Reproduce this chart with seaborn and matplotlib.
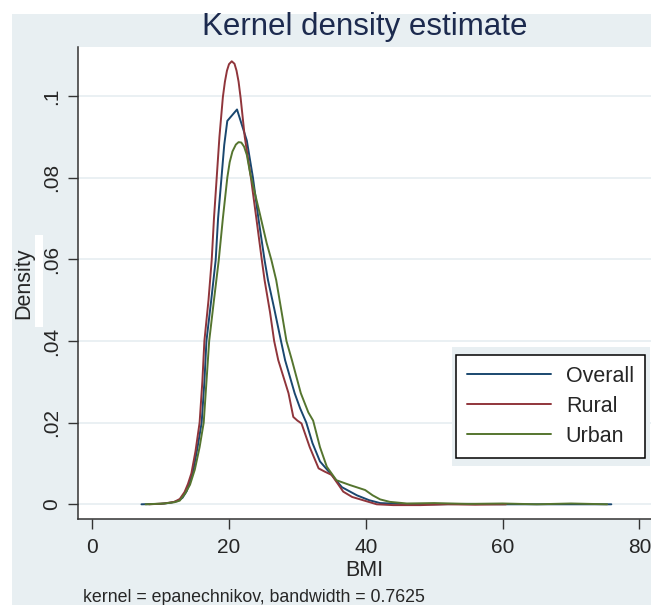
import matplotlib
matplotlib.use("Agg")
from matplotlib import pyplot as plt
from matplotlib.patches import Rectangle
import pandas as pd
import seaborn as sns

# BMI density curves
overall_x = [7.2, 10.0, 11.5, 12.5, 13.2, 13.8, 14.3, 14.8, 15.4, 16.0, 16.4, 16.7, 17.4, 18.05,
             18.4, 18.9, 19.3, 19.75, 21.17, 22.6, 23.5, 24.3, 25.2, 25.7, 26.6, 27.6, 28.2,
             29.6, 30.4, 31.3, 32.2, 33.3, 34.8, 36.5, 38.7, 40.5, 42.1, 45, 50, 55, 60, 65, 70, 75.9]
overall_y = [0.0, 0.0001, 0.0004, 0.0008, 0.0016, 0.0032, 0.0055, 0.0085, 0.014, 0.020, 0.030,
             0.040, 0.050, 0.0598, 0.070, 0.080, 0.088, 0.0939, 0.0967, 0.0891, 0.080, 0.070,
             0.0598, 0.0549, 0.048, 0.040, 0.0353, 0.0272, 0.0235, 0.0200, 0.015, 0.0105, 0.0076,
             0.0042, 0.0022, 0.0010, 0.0003, 0.0001, 0.0, 0.0001, 0.0, 0.0, 0.0, 0.0]

rural_x = [8.3, 10.5, 12.0, 12.8, 13.5, 14.0, 14.5, 15.1, 15.7, 16.1, 16.4, 17.0, 17.47, 17.8,
           18.2, 18.6, 19.1, 19.4, 19.7, 20.0, 20.4, 20.8, 21.1, 21.4, 21.7, 22.3, 23.2, 24.0,
           24.8, 25.2, 26.0, 26.6, 27.2, 28.7, 29.4, 30.0, 30.6, 31.8, 33.1, 34.0, 35.0, 36.0,
           36.7, 38.0, 39.6, 41.6, 44, 48, 52, 56, 60.5]
rural_y = [0.0, 0.0002, 0.0006, 0.0013, 0.003, 0.005, 0.0076, 0.013, 0.020, 0.030, 0.040, 0.050,
           0.0598, 0.070, 0.080, 0.090, 0.0997, 0.1035, 0.1062, 0.1078, 0.1085, 0.1079, 0.1062,
           0.1035, 0.0995, 0.090, 0.080, 0.070, 0.0598, 0.0549, 0.047, 0.040, 0.0353, 0.0272,
           0.0214, 0.0205, 0.0198, 0.014, 0.0088, 0.0080, 0.0072, 0.0048, 0.0031, 0.0018, 0.0010,
           0.0, -0.0002, -0.0002, 0.0, -0.0001, 0.0]

urban_x = [7.8, 10.5, 12.0, 12.8, 13.6, 14.3, 15.0, 15.7, 16.3, 16.7, 17.1, 17.8, 18.5, 19.1,
           19.75, 20.1, 20.5, 21.0, 21.4, 21.8, 22.2, 22.6, 23.1, 24.5, 25.5, 26.2, 26.9, 27.7,
           28.4, 29.2, 30.5, 31.6, 32.3, 33.3, 34.3, 35.7, 37.7, 39.9, 41.0, 42.1, 43.5, 46, 50,
           55, 60, 65, 70, 75.3]
urban_y = [0.0, 0.0002, 0.0005, 0.0009, 0.0027, 0.0048, 0.0085, 0.014, 0.020, 0.030, 0.040,
           0.050, 0.0598, 0.070, 0.080, 0.0838, 0.0864, 0.0881, 0.0887, 0.0886, 0.0876, 0.0856,
           0.081, 0.0712, 0.064, 0.0598, 0.0549, 0.047, 0.040, 0.0353, 0.0272, 0.0225, 0.0205,
           0.014, 0.0092, 0.0059, 0.0047, 0.0035, 0.0022, 0.0012, 0.0006, 0.0002, 0.0003, 0.0001,
           0.0002, 0.0, 0.0002, 0.0]

groups = ["Overall", "Rural", "Urban"]
colors = ["#1a476f", "#90353b", "#55752f"]
x_ticks = [0, 20, 40, 60, 80]
y_ticks = [0, 0.02, 0.04, 0.06, 0.08, 0.1]
y_labels = ["0", ".02", ".04", ".06", ".08", ".1"]

df = pd.concat([
    pd.DataFrame({"BMI": overall_x, "Density": overall_y, "group": "Overall"}),
    pd.DataFrame({"BMI": rural_x, "Density": rural_y, "group": "Rural"}),
    pd.DataFrame({"BMI": urban_x, "Density": urban_y, "group": "Urban"}),
], ignore_index=True)

sns.set_style("white")
plt.rcParams["font.family"] = ["Liberation Sans", "DejaVu Sans"]

bg = "#e8eff2"
W, H = 651, 605
fig = plt.figure(figsize=(W / 100, H / 100), dpi=100, facecolor="white")
fig.patches.append(Rectangle((12 / W, 0), 1, 1 - 14 / H, transform=fig.transFigure,
                             facecolor=bg, edgecolor="none", zorder=-2))
ax = fig.add_axes([78 / W, 1 - 519 / H, 1 - 78 / W, (519 - 47) / H])
ax.set_facecolor("white")

sns.lineplot(data=df, x="BMI", y="Density", hue="group", hue_order=groups,
             palette=colors, sort=False, estimator=None, linewidth=1.4, ax=ax)

ax.set_xlim(-2.08, 81.7)
ax.set_ylim(-0.0036, 0.112)
ax.set_xticks(x_ticks)
ax.set_yticks(y_ticks)
ax.set_yticklabels(y_labels, rotation=90, va="center")
ax.tick_params(axis="both", direction="out", length=7, width=1, color="#333333",
               labelsize=15, left=True, bottom=True)
ax.tick_params(axis="x", pad=7)
ax.tick_params(axis="y", pad=5)
ax.yaxis.grid(True, color=bg, linewidth=1.3)
ax.set_axisbelow(True)
for s in ["top", "right"]:
    ax.spines[s].set_visible(False)
for s in ["left", "bottom"]:
    ax.spines[s].set_color("#333333")
    ax.spines[s].set_linewidth(1.1)

ax.set_xlabel("BMI", fontsize=15.5, labelpad=2)
ax.set_ylabel("Density", fontsize=15.5, labelpad=6)
fig.text(365 / W, 1 - 27 / H, "Kernel density estimate", ha="center", va="center",
         fontsize=22.5, color="#1c2a4e")
fig.text(83 / W, 1 - 597 / H, "kernel = epanechnikov, bandwidth = 0.7625",
         ha="left", va="center", fontsize=12.8)

# white strip next to the y title
fig.patches.append(Rectangle((35 / W, 1 - 327 / H), 8 / W, 92 / H, transform=fig.transFigure,
                             facecolor="white", edgecolor="none", zorder=5))

ax.add_patch(Rectangle((452 / W, 1 - 466 / H), 198 / W, 119 / H, transform=fig.transFigure,
                       facecolor=bg, edgecolor="none", zorder=4, clip_on=False))
leg = ax.legend(loc="upper left", bbox_to_anchor=(456 / W, 1 - 355 / H),
                bbox_transform=fig.transFigure, borderaxespad=0, fontsize=15.5,
                frameon=True, fancybox=False, edgecolor="black", facecolor="white",
                framealpha=1, handlelength=3.9, handletextpad=0.7, labelspacing=0.42,
                borderpad=0.5, title=None)
leg.get_frame().set_linewidth(1.1)
for line in leg.get_lines():
    line.set_linewidth(1.4)

fig.savefig("out.png", dpi=100, facecolor=fig.get_facecolor())
